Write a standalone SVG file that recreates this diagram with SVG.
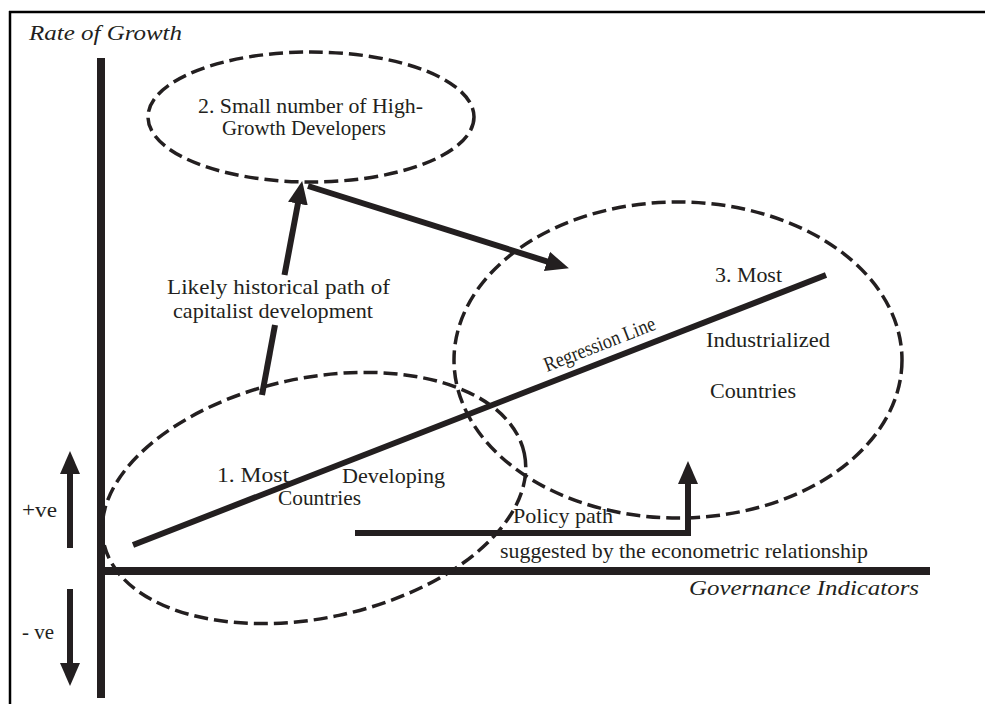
<svg xmlns="http://www.w3.org/2000/svg" width="985" height="704" viewBox="0 0 985 704" font-family="Liberation Serif, Times New Roman, serif">
<style>
  text { font-family: "Liberation Serif", "Times New Roman", serif; }
  .t { font-size: 21px; fill: #231f20; }
  .it { font-size: 22px; font-style: italic; fill: #231f20; }
  .dash { fill: none; stroke: #231f20; stroke-width: 3.5; stroke-dasharray: 14 6; }
  .thick { fill: none; stroke: #231f20; stroke-width: 6; }
  .axis { fill: none; stroke: #231f20; stroke-width: 8; }
</style>
<defs>
  <marker id="ah" markerUnits="userSpaceOnUse" markerWidth="24" markerHeight="22" refX="8" refY="11" orient="auto">
    <path d="M0,1 L23,11 L0,21 z" fill="#231f20"/>
  </marker>
</defs>
<rect x="0" y="0" width="985" height="704" fill="#ffffff"/>
<g id="frame">
  <line x1="9" y1="12" x2="985" y2="12" stroke="#000" stroke-width="2.5"/>
  <line x1="10" y1="11" x2="10" y2="704" stroke="#000" stroke-width="2.5"/>
</g>
<g id="axes">
  <line class="axis" x1="101" y1="58" x2="101" y2="698" stroke-width="7"/>
  <line class="axis" x1="97" y1="571" x2="930" y2="571"/>
  <text class="it" x="29" y="40" textLength="153" lengthAdjust="spacingAndGlyphs">Rate of Growth</text>
  <text class="it" x="689" y="595" textLength="230" lengthAdjust="spacingAndGlyphs">Governance Indicators</text>
</g>
<g id="sign-arrows">
  <line class="thick" x1="70" y1="548" x2="70" y2="466" stroke-width="7" marker-end="url(#ah)"/>
  <line class="thick" x1="70" y1="589" x2="70" y2="671" stroke-width="7" marker-end="url(#ah)"/>
  <text class="t" x="22" y="517" textLength="35" lengthAdjust="spacingAndGlyphs">+ve</text>
  <text class="t" x="22" y="639" textLength="32" lengthAdjust="spacingAndGlyphs">- ve</text>
</g>
<g id="regression">
  <line class="thick" x1="133" y1="545" x2="826" y2="275"/>
  <text class="t" x="547" y="372" font-size="18" textLength="118" lengthAdjust="spacingAndGlyphs" transform="rotate(-21.3 547 372)">Regression Line</text>
</g>
<g id="node-developing">
  <ellipse class="dash" cx="314" cy="498" rx="215" ry="120" transform="rotate(-12 314 498)"/>
  <text class="t" x="217" y="482" textLength="72" lengthAdjust="spacingAndGlyphs">1. Most</text>
  <text class="t" x="342" y="483" textLength="103" lengthAdjust="spacingAndGlyphs">Developing</text>
  <text class="t" x="278" y="505" textLength="83" lengthAdjust="spacingAndGlyphs">Countries</text>
</g>
<g id="node-highgrowth">
  <ellipse class="dash" cx="311" cy="117" rx="163" ry="65"/>
  <text class="t" x="198" y="113" textLength="225" lengthAdjust="spacingAndGlyphs">2. Small number of High-</text>
  <text class="t" x="222" y="135" textLength="164" lengthAdjust="spacingAndGlyphs">Growth Developers</text>
</g>
<g id="node-industrialized">
  <ellipse class="dash" cx="678" cy="360" rx="224" ry="158"/>
  <text class="t" x="715" y="282" textLength="67" lengthAdjust="spacingAndGlyphs">3. Most</text>
  <text class="t" x="706" y="347" textLength="124" lengthAdjust="spacingAndGlyphs">Industrialized</text>
  <text class="t" x="710" y="398" textLength="86" lengthAdjust="spacingAndGlyphs">Countries</text>
</g>
<g id="connectors">
  <line class="thick" x1="262" y1="395" x2="275" y2="325"/>
  <line class="thick" x1="284.5" y1="275" x2="299.4" y2="195.8" marker-end="url(#ah)"/>
  <line class="thick" x1="308" y1="186" x2="554.6" y2="263.8" marker-end="url(#ah)"/>
  <polyline class="thick" points="355,533 688,533 688,476" marker-end="url(#ah)"/>
  <text class="t" x="167" y="294" textLength="223" lengthAdjust="spacingAndGlyphs">Likely historical path of</text>
  <text class="t" x="173" y="318" textLength="200" lengthAdjust="spacingAndGlyphs">capitalist development</text>
  <text class="t" x="513" y="523" textLength="100" lengthAdjust="spacingAndGlyphs">Policy path</text>
  <text class="t" x="500" y="558" textLength="368" lengthAdjust="spacingAndGlyphs">suggested by the econometric relationship</text>
</g>
</svg>
